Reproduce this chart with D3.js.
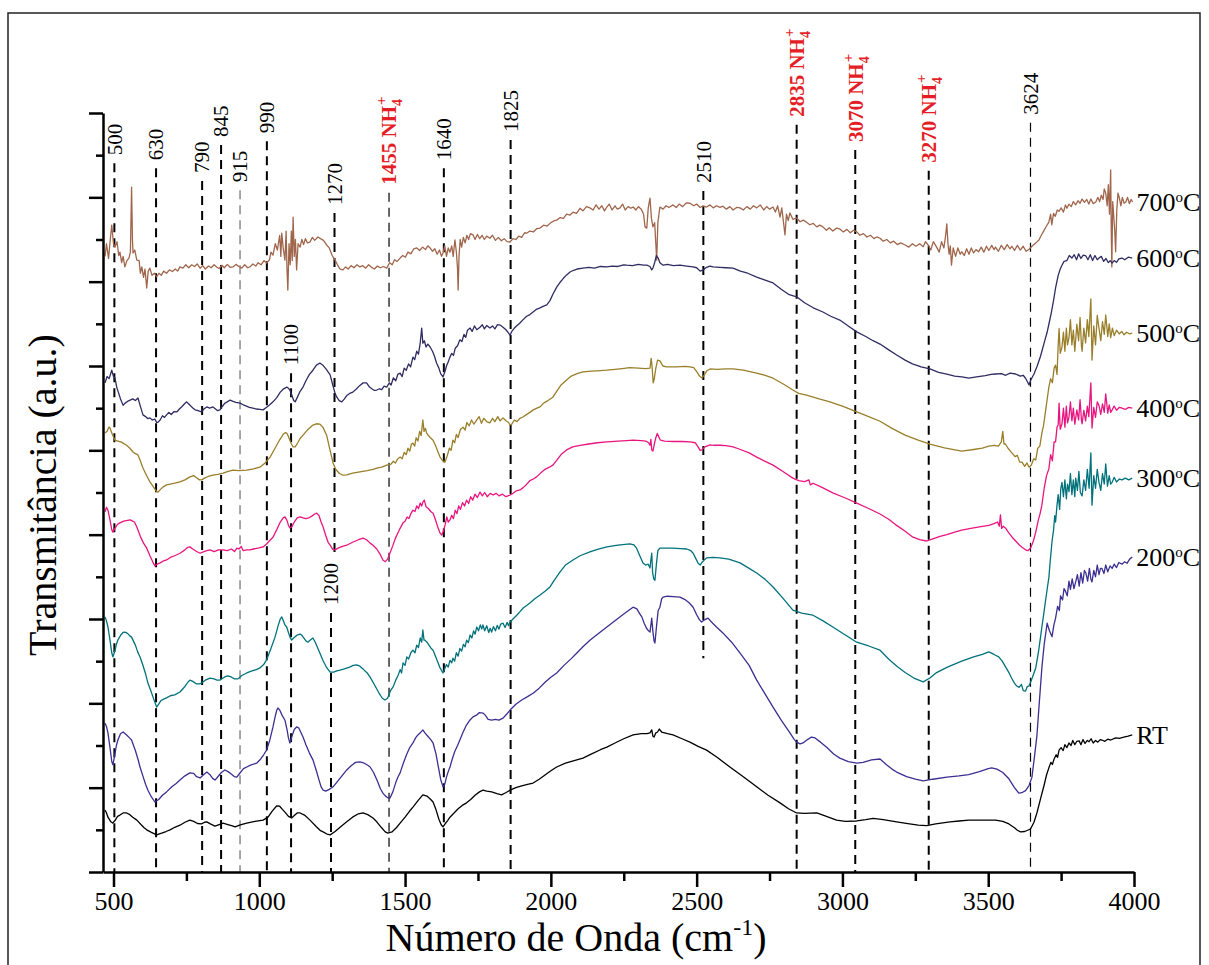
<!DOCTYPE html>
<html lang="pt">
<head>
<meta charset="utf-8">
<script src="https://d3js.org/d3.v7.min.js"></script>
<style>
  body { margin: 0; background: #fff; }
  text { font-family: "Liberation Serif", "Times New Roman", serif; }
</style>
</head>
<body>
<script>
// FTIR spectra, [wavenumber, transmittance a.u.]
const s700 = [[471,14.60],[476,14.9],[483,14.55],[489,15.0],[494,15.34],[500,14.9],[505,14.82],[512,14.95],[518,14.62],[522,14.70],[528,14.45],[533,14.6],[539,14.35],[546,14.5],[553,14.56],[558,14.7],[562,16.24],[565,15.0],[567,14.68],[573,14.75],[580,14.51],[588,14.5],[592,14.2],[597,14.35],[603,14.1],[608,14.3],[614,13.85],[619,14.25],[625,14.32],[632,14.15],[640,14.2],[648,14.11],[656,14.2],[664,14.15],[672,14.25],[682,14.20],[692,14.28],[702,14.24],[712,14.3],[720,14.25],[728,14.35],[738,14.32],[748,14.4],[758,14.33],[768,14.4],[778,14.36],[787,14.42],[797,14.32],[806,14.38],[815,14.3],[826,14.37],[835,14.33],[845,14.4],[854,14.35],[862,14.31],[872,14.39],[880,14.33],[890,14.41],[900,14.34],[910,14.35],[920,14.41],[930,14.36],[940,14.32],[950,14.4],[960,14.33],[968,14.35],[978,14.42],[988,14.37],[996,14.45],[1006,14.4],[1016,14.5],[1025,14.44],[1035,14.52],[1040,14.7],[1047,14.63],[1055,14.9],[1062,14.75],[1070,15.1],[1074,14.6],[1077,15.15],[1082,14.8],[1088,14.51],[1092,15.2],[1095,14.3],[1098,13.80],[1102,14.9],[1106,14.4],[1110,15.2],[1113,14.5],[1116,15.53],[1120,14.6],[1124,15.0],[1128,14.28],[1133,14.9],[1140,14.82],[1146,15.0],[1152,14.88],[1158,15.02],[1165,14.92],[1174,14.94],[1182,15.05],[1190,14.98],[1201,15.06],[1210,15.02],[1220,14.98],[1231,14.87],[1240,14.8],[1250,14.62],[1260,14.51],[1268,14.4],[1277,14.3],[1287,14.28],[1296,14.35],[1305,14.3],[1315,14.38],[1325,14.33],[1335,14.4],[1345,14.35],[1355,14.38],[1365,14.32],[1375,14.4],[1385,14.34],[1395,14.3],[1405,14.37],[1415,14.33],[1426,14.36],[1437,14.32],[1447,14.45],[1456,14.4],[1464,14.52],[1473,14.48],[1483,14.56],[1492,14.62],[1501,14.58],[1510,14.7],[1520,14.66],[1530,14.78],[1540,14.80],[1550,14.74],[1560,14.82],[1570,14.76],[1578,14.85],[1586,14.80],[1594,14.72],[1602,14.78],[1610,14.65],[1618,14.75],[1625,14.6],[1630,14.68],[1636,14.85],[1642,14.6],[1648,14.8],[1654,14.70],[1660,14.85],[1665,14.6],[1671,14.99],[1676,14.7],[1680,14.3],[1682,13.80],[1685,14.6],[1689,15.0],[1694,14.82],[1700,15.05],[1706,14.92],[1712,15.1],[1718,15.0],[1724,15.14],[1733,15.11],[1740,15.0],[1748,15.12],[1756,15.02],[1764,15.1],[1772,15.0],[1780,15.08],[1791,15.03],[1800,15.1],[1810,14.98],[1820,15.05],[1830,14.97],[1840,15.02],[1850,14.95],[1860,14.94],[1870,15.02],[1880,15.0],[1890,15.08],[1900,15.05],[1910,15.16],[1917,15.15],[1928,15.2],[1940,15.18],[1952,15.26],[1963,15.27],[1975,15.34],[1987,15.32],[2000,15.4],[2010,15.44],[2020,15.46],[2032,15.52],[2043,15.5],[2054,15.6],[2066,15.58],[2076,15.65],[2088,15.62],[2100,15.74],[2110,15.68],[2122,15.78],[2134,15.75],[2145,15.7],[2155,15.82],[2165,15.72],[2175,15.8],[2184,15.68],[2192,15.77],[2200,15.84],[2210,15.7],[2220,15.8],[2228,15.72],[2237,15.75],[2246,15.84],[2255,15.7],[2265,15.78],[2274,15.74],[2282,15.77],[2292,15.7],[2300,15.78],[2310,15.72],[2318,15.6],[2323,15.3],[2329,15.27],[2334,15.75],[2340,15.98],[2345,15.5],[2350,15.30],[2356,15.4],[2360,14.9],[2363,14.51],[2367,15.4],[2374,15.77],[2385,15.72],[2395,15.8],[2405,15.76],[2419,15.82],[2430,15.76],[2440,15.84],[2452,15.78],[2465,15.87],[2477,15.86],[2490,15.8],[2500,15.84],[2512,15.76],[2522,15.8],[2534,15.77],[2546,15.82],[2557,15.75],[2568,15.8],[2580,15.76],[2590,15.79],[2602,15.72],[2614,15.78],[2625,15.7],[2637,15.76],[2649,15.75],[2660,15.7],[2672,15.78],[2684,15.72],[2695,15.8],[2706,15.75],[2718,15.82],[2730,15.7],[2740,15.78],[2750,15.72],[2762,15.77],[2770,15.65],[2778,15.8],[2786,15.53],[2792,15.75],[2798,15.4],[2803,15.11],[2808,15.6],[2814,15.45],[2820,15.63],[2830,15.48],[2843,15.51],[2855,15.42],[2866,15.46],[2877,15.41],[2888,15.35],[2900,15.38],[2912,15.3],[2922,15.34],[2933,15.30],[2945,15.22],[2955,15.28],[2967,15.2],[2980,15.27],[2991,15.25],[3003,15.18],[3015,15.24],[3027,15.16],[3038,15.22],[3049,15.18],[3060,15.1],[3072,15.14],[3084,15.06],[3096,15.1],[3108,15.02],[3118,15.06],[3129,15.03],[3140,14.96],[3152,15.0],[3164,14.92],[3176,14.96],[3188,14.88],[3200,14.92],[3215,14.87],[3228,14.82],[3240,14.9],[3252,14.84],[3265,14.9],[3277,14.83],[3285,14.95],[3294,14.87],[3303,14.75],[3312,14.95],[3323,14.82],[3332,14.7],[3340,14.95],[3348,14.8],[3354,15.1],[3358,15.37],[3362,14.9],[3366,14.65],[3370,14.85],[3374,14.39],[3380,14.8],[3388,14.6],[3396,14.8],[3404,14.65],[3409,14.71],[3418,14.62],[3426,14.78],[3434,14.65],[3442,14.8],[3450,14.68],[3458,14.76],[3467,14.71],[3476,14.82],[3485,14.7],[3494,14.84],[3502,14.74],[3512,14.86],[3520,14.76],[3525,14.82],[3535,14.72],[3545,14.86],[3555,14.76],[3565,14.88],[3575,14.78],[3581,14.84],[3590,14.74],[3600,14.86],[3610,14.75],[3620,14.84],[3630,14.72],[3640,14.77],[3650,14.84],[3660,14.9],[3668,14.95],[3674,14.99],[3682,15.1],[3690,15.2],[3700,15.32],[3708,15.41],[3714,15.6],[3718,15.35],[3724,15.62],[3730,15.55],[3737,15.7],[3743,15.67],[3750,15.75],[3758,15.65],[3765,15.82],[3770,15.74],[3777,15.84],[3785,15.78],[3792,15.9],[3800,15.82],[3808,15.92],[3815,15.86],[3822,15.96],[3830,15.88],[3838,15.95],[3845,15.84],[3852,15.96],[3860,15.85],[3869,15.89],[3876,16.0],[3882,15.9],[3888,16.05],[3894,15.95],[3898,16.2],[3903,16.10],[3908,15.8],[3912,16.3],[3916,15.6],[3920,16.65],[3922,15.2],[3924,14.35],[3927,15.9],[3930,15.6],[3934,15.2],[3937,14.71],[3941,15.7],[3945,16.1],[3949,16.01],[3955,15.8],[3960,16.0],[3966,15.86],[3972,15.89],[3978,16.0],[3984,15.85],[3990,15.95],[3995,15.89]];

const s600 = [[471,11.60],[478,11.75],[485,11.7],[494,11.90],[500,11.75],[505,11.72],[511,11.50],[518,11.35],[524,11.22],[533,11.07],[540,11.12],[548,11.16],[557,11.19],[566,11.22],[575,11.18],[584,11.24],[592,11.05],[601,10.84],[610,10.8],[618,10.75],[625,10.77],[633,10.72],[642,10.74],[648,10.66],[653,10.67],[660,10.72],[668,10.82],[675,10.78],[682,10.84],[690,10.9],[698,10.85],[708,10.92],[717,10.91],[726,10.98],[735,11.04],[743,11.1],[751,11.15],[758,11.1],[765,11.05],[773,11.00],[780,10.96],[790,10.94],[802,10.91],[810,10.98],[820,11.03],[830,11.0],[841,11.03],[850,10.98],[857,10.94],[865,10.96],[873,11.04],[882,11.12],[890,11.15],[900,11.19],[910,11.16],[920,11.14],[934,11.12],[945,11.08],[956,11.05],[966,11.02],[978,11.00],[990,10.98],[1002,10.97],[1013,10.96],[1025,11.02],[1036,11.08],[1047,11.15],[1060,11.25],[1072,11.38],[1082,11.45],[1090,11.48],[1094,11.50],[1100,11.47],[1105,11.43],[1112,11.3],[1118,11.18],[1123,11.15],[1130,11.25],[1140,11.4],[1150,11.50],[1160,11.65],[1172,11.8],[1184,11.90],[1196,12.02],[1208,12.07],[1218,12.02],[1230,11.92],[1243,11.79],[1252,11.55],[1260,11.35],[1266,11.26],[1274,11.18],[1283,11.15],[1292,11.22],[1300,11.3],[1310,11.35],[1321,11.38],[1332,11.45],[1345,11.54],[1356,11.6],[1368,11.60],[1378,11.5],[1386,11.46],[1395,11.42],[1403,11.43],[1412,11.46],[1420,11.44],[1428,11.52],[1437,11.50],[1446,11.6],[1452,11.55],[1460,11.72],[1468,11.65],[1475,11.8],[1483,11.83],[1490,11.75],[1497,11.95],[1504,11.9],[1512,12.05],[1519,11.98],[1527,12.21],[1533,12.15],[1540,12.35],[1546,12.28],[1552,12.55],[1557,12.90],[1561,12.54],[1566,12.6],[1572,12.45],[1578,12.52],[1586,12.45],[1594,12.35],[1600,12.25],[1608,12.07],[1616,11.95],[1622,11.82],[1630,11.74],[1636,11.85],[1642,12.0],[1648,12.1],[1654,12.21],[1660,12.3],[1666,12.25],[1672,12.42],[1680,12.48],[1688,12.62],[1695,12.58],[1702,12.75],[1708,12.68],[1714,12.85],[1723,12.90],[1730,12.82],[1738,12.95],[1746,12.86],[1757,12.92],[1765,12.98],[1772,12.88],[1780,12.96],[1791,12.90],[1800,12.95],[1808,12.88],[1817,12.98],[1826,12.97],[1836,12.92],[1846,12.86],[1855,12.78],[1860,12.73],[1866,12.82],[1875,12.9],[1884,12.96],[1894,13.02],[1905,13.1],[1917,13.18],[1928,13.22],[1939,13.28],[1952,13.35],[1963,13.38],[1975,13.42],[1986,13.45],[1997,13.55],[2007,13.7],[2020,13.87],[2031,13.98],[2043,14.08],[2054,14.16],[2066,14.23],[2078,14.27],[2090,14.3],[2110,14.32],[2130,14.34],[2150,14.32],[2170,14.36],[2192,14.35],[2210,14.37],[2230,14.36],[2250,14.4],[2260,14.39],[2280,14.38],[2300,14.41],[2318,14.39],[2329,14.39],[2340,14.36],[2346,14.28],[2350,14.32],[2356,14.45],[2362,14.62],[2368,14.56],[2374,14.45],[2385,14.39],[2400,14.41],[2420,14.38],[2443,14.39],[2465,14.37],[2488,14.35],[2500,14.33],[2512,14.25],[2522,14.28],[2534,14.34],[2546,14.37],[2556,14.35],[2580,14.34],[2600,14.33],[2625,14.32],[2650,14.25],[2675,14.2],[2706,14.11],[2730,14.05],[2762,13.97],[2790,13.82],[2815,13.7],[2843,13.64],[2870,13.5],[2900,13.38],[2933,13.28],[2960,13.18],[2991,13.09],[3020,12.95],[3049,12.81],[3080,12.7],[3105,12.6],[3129,12.52],[3155,12.4],[3186,12.26],[3215,12.14],[3240,12.05],[3270,11.98],[3300,11.93],[3330,11.85],[3358,11.81],[3385,11.76],[3410,11.74],[3433,11.71],[3460,11.74],[3490,11.77],[3510,11.8],[3525,11.81],[3545,11.82],[3560,11.78],[3575,11.83],[3594,11.81],[3610,11.76],[3620,11.78],[3628,11.71],[3635,11.62],[3640,11.55],[3645,11.65],[3650,11.72],[3657,11.81],[3668,12.0],[3678,12.2],[3684,12.35],[3694,12.6],[3702,12.8],[3708,12.99],[3716,13.25],[3724,13.55],[3731,13.85],[3740,14.15],[3747,14.3],[3753,14.39],[3760,14.48],[3770,14.5],[3778,14.62],[3787,14.56],[3795,14.64],[3803,14.52],[3810,14.66],[3818,14.55],[3826,14.63],[3835,14.61],[3842,14.52],[3850,14.64],[3858,14.5],[3866,14.62],[3874,14.52],[3880,14.56],[3888,14.6],[3896,14.48],[3904,14.55],[3912,14.45],[3918,14.5],[3925,14.44],[3932,14.5],[3940,14.46],[3948,14.54],[3959,14.56],[3968,14.52],[3980,14.58],[3994,14.56]];

const s500 = [[471,10.41],[478,10.45],[484,10.55],[488,10.53],[495,10.4],[505,10.24],[515,10.22],[525,10.2],[533,10.17],[545,10.12],[556,10.05],[567,9.96],[575,9.92],[583,9.9],[591,9.77],[600,9.6],[610,9.45],[625,9.25],[638,9.12],[648,9.02],[653,9.01],[662,9.08],[672,9.14],[682,9.18],[695,9.2],[710,9.22],[728,9.25],[745,9.3],[762,9.37],[775,9.4],[785,9.35],[795,9.3],[802,9.30],[812,9.34],[825,9.38],[841,9.41],[858,9.43],[876,9.46],[893,9.5],[910,9.53],[930,9.52],[957,9.53],[980,9.56],[1002,9.60],[1020,9.7],[1037,9.84],[1055,10.06],[1070,10.25],[1082,10.38],[1090,10.42],[1094,10.41],[1100,10.33],[1108,10.18],[1116,10.08],[1123,10.08],[1132,10.18],[1140,10.28],[1150,10.36],[1165,10.48],[1184,10.60],[1196,10.63],[1208,10.62],[1218,10.55],[1231,10.36],[1240,10.08],[1248,9.85],[1253,9.70],[1262,9.55],[1275,9.45],[1287,9.41],[1300,9.42],[1320,9.46],[1345,9.49],[1370,9.52],[1390,9.55],[1403,9.58],[1420,9.6],[1437,9.65],[1450,9.66],[1460,9.74],[1467,9.7],[1475,9.8],[1483,9.84],[1490,9.8],[1497,9.95],[1504,9.9],[1510,10.05],[1516,9.98],[1522,10.15],[1527,10.17],[1533,10.1],[1538,10.3],[1544,10.22],[1550,10.45],[1555,10.35],[1561,10.72],[1565,10.45],[1570,10.52],[1574,10.41],[1580,10.35],[1587,10.3],[1596,10.24],[1604,10.12],[1612,9.98],[1620,9.84],[1628,9.76],[1637,9.72],[1645,9.88],[1652,10.05],[1658,10.0],[1664,10.24],[1670,10.18],[1676,10.38],[1682,10.3],[1690,10.5],[1699,10.55],[1706,10.48],[1712,10.66],[1720,10.58],[1728,10.72],[1736,10.62],[1746,10.72],[1754,10.8],[1762,10.64],[1770,10.76],[1780,10.68],[1791,10.65],[1800,10.76],[1808,10.68],[1818,10.8],[1826,10.7],[1836,10.77],[1846,10.7],[1855,10.66],[1860,10.6],[1866,10.62],[1875,10.72],[1884,10.68],[1894,10.76],[1904,10.79],[1915,10.84],[1928,10.9],[1940,10.96],[1952,11.0],[1963,11.03],[1975,11.12],[1990,11.18],[2007,11.26],[2020,11.4],[2035,11.55],[2054,11.67],[2070,11.76],[2090,11.82],[2110,11.86],[2140,11.88],[2170,11.89],[2192,11.90],[2220,11.92],[2245,11.94],[2270,11.96],[2300,11.95],[2325,11.94],[2340,11.95],[2344,12.18],[2347,12.0],[2351,11.6],[2354,11.67],[2360,11.95],[2366,12.14],[2374,12.12],[2384,12.0],[2397,11.98],[2430,11.98],[2460,11.99],[2477,11.98],[2490,11.96],[2502,11.85],[2510,11.76],[2517,11.72],[2524,11.76],[2534,11.88],[2546,11.93],[2570,11.92],[2600,11.93],[2625,11.93],[2660,11.9],[2706,11.83],[2735,11.78],[2762,11.71],[2800,11.56],[2830,11.43],[2850,11.35],[2877,11.31],[2920,11.22],[2957,11.15],[3000,11.05],[3049,10.91],[3090,10.8],[3129,10.69],[3170,10.52],[3215,10.36],[3260,10.24],[3300,10.15],[3350,10.06],[3409,9.98],[3450,10.02],[3480,10.05],[3502,10.10],[3520,10.12],[3535,10.1],[3545,10.2],[3550,10.45],[3554,10.15],[3559,10.15],[3568,10.05],[3581,9.94],[3592,9.85],[3600,9.88],[3608,9.72],[3616,9.72],[3625,9.62],[3633,9.7],[3640,9.60],[3648,9.65],[3656,9.8],[3663,9.77],[3670,10.05],[3677,10.1],[3684,10.41],[3690,10.6],[3696,10.9],[3702,11.2],[3708,11.50],[3714,11.7],[3720,11.6],[3726,11.95],[3731,12.02],[3736,11.8],[3740,12.5],[3743,12.89],[3747,12.3],[3753,12.45],[3758,12.8],[3763,12.35],[3768,12.9],[3772,12.5],[3777,12.67],[3782,13.1],[3787,12.5],[3792,12.85],[3797,12.35],[3804,12.99],[3810,12.6],[3815,13.15],[3820,12.45],[3822,12.35],[3828,12.9],[3834,12.55],[3840,13.1],[3845,12.7],[3852,13.59],[3856,12.14],[3862,12.95],[3868,12.5],[3874,13.2],[3880,12.89],[3886,12.6],[3892,13.05],[3898,12.75],[3903,13.21],[3910,12.7],[3915,13.0],[3920,12.67],[3926,12.9],[3932,12.72],[3940,12.85],[3949,12.76],[3958,12.82],[3966,12.74],[3975,12.8],[3985,12.76],[3994,12.78]];

const s400 = [[471,8.54],[476,8.65],[481,8.58],[488,8.35],[494,8.12],[498,8.06],[505,8.15],[513,8.24],[522,8.28],[535,8.32],[548,8.34],[557,8.35],[566,8.32],[572,8.3],[580,8.18],[592,7.96],[603,7.8],[614,7.68],[625,7.5],[635,7.35],[642,7.26],[650,7.3],[660,7.33],[672,7.38],[682,7.40],[695,7.46],[710,7.5],[728,7.56],[745,7.64],[755,7.7],[762,7.71],[772,7.66],[785,7.6],[797,7.56],[810,7.6],[820,7.62],[831,7.64],[845,7.6],[860,7.64],[876,7.64],[890,7.62],[905,7.66],[915,7.6],[923,7.68],[930,7.66],[938,7.72],[945,7.62],[957,7.64],[968,7.64],[980,7.66],[995,7.68],[1013,7.71],[1025,7.78],[1036,7.86],[1047,7.94],[1060,8.12],[1072,8.3],[1082,8.4],[1088,8.42],[1095,8.34],[1100,8.22],[1105,8.16],[1111,8.18],[1120,8.3],[1130,8.4],[1140,8.42],[1150,8.4],[1160,8.38],[1167,8.39],[1180,8.44],[1190,8.49],[1197,8.51],[1205,8.45],[1212,8.3],[1219,8.18],[1228,7.98],[1236,7.82],[1243,7.75],[1252,7.65],[1260,7.64],[1270,7.68],[1285,7.72],[1300,7.75],[1320,7.82],[1340,7.88],[1356,7.92],[1368,7.88],[1380,7.8],[1390,7.75],[1403,7.66],[1414,7.54],[1424,7.40],[1432,7.36],[1440,7.42],[1448,7.56],[1458,7.74],[1466,7.9],[1474,8.02],[1483,8.15],[1493,8.28],[1500,8.32],[1507,8.42],[1513,8.38],[1520,8.5],[1527,8.58],[1534,8.55],[1540,8.68],[1546,8.62],[1552,8.75],[1557,8.68],[1561,8.77],[1566,8.82],[1572,8.66],[1580,8.62],[1588,8.55],[1596,8.51],[1604,8.36],[1612,8.18],[1620,8.04],[1626,7.99],[1632,8.1],[1638,8.25],[1643,8.42],[1648,8.3],[1654,8.35],[1660,8.46],[1666,8.38],[1672,8.58],[1678,8.5],[1684,8.68],[1690,8.6],[1697,8.76],[1704,8.68],[1711,8.82],[1718,8.74],[1725,8.9],[1732,8.82],[1740,8.96],[1748,8.88],[1757,9.01],[1765,8.92],[1773,9.0],[1782,8.9],[1792,8.98],[1802,8.94],[1812,8.98],[1822,8.92],[1834,8.96],[1846,8.9],[1860,8.94],[1870,8.98],[1882,9.04],[1894,9.06],[1904,9.11],[1915,9.18],[1928,9.28],[1940,9.32],[1951,9.37],[1965,9.46],[1980,9.55],[1995,9.6],[2007,9.65],[2020,9.76],[2035,9.9],[2054,10.01],[2075,10.08],[2100,10.12],[2130,10.15],[2160,10.18],[2192,10.20],[2230,10.22],[2260,10.23],[2282,10.24],[2310,10.23],[2326,10.22],[2335,10.18],[2340,10.12],[2343,10.26],[2346,10.01],[2350,9.98],[2355,10.15],[2360,10.3],[2365,10.4],[2370,10.32],[2376,10.24],[2390,10.22],[2420,10.21],[2450,10.21],[2477,10.20],[2495,10.18],[2505,10.08],[2512,10.0],[2518,10.01],[2528,10.08],[2546,10.13],[2560,10.12],[2580,10.12],[2600,10.11],[2625,10.08],[2650,10.02],[2680,9.94],[2706,9.84],[2735,9.74],[2762,9.65],[2800,9.48],[2830,9.34],[2850,9.28],[2870,9.26],[2885,9.3],[2890,9.18],[2899,9.22],[2930,9.12],[2967,8.99],[3010,8.87],[3049,8.75],[3090,8.62],[3129,8.49],[3160,8.36],[3186,8.22],[3215,8.08],[3242,7.94],[3265,7.88],[3289,7.85],[3310,7.9],[3335,7.96],[3358,8.00],[3385,8.06],[3409,8.11],[3440,8.15],[3475,8.19],[3502,8.22],[3520,8.26],[3532,8.3],[3538,8.2],[3542,8.47],[3546,8.15],[3552,8.2],[3559,8.16],[3570,8.05],[3582,7.94],[3594,7.85],[3606,7.76],[3616,7.7],[3628,7.64],[3636,7.62],[3645,7.68],[3655,7.85],[3663,8.06],[3672,8.35],[3678,8.5],[3684,8.70],[3692,9.1],[3700,9.4],[3708,9.56],[3714,9.9],[3720,9.75],[3726,10.2],[3731,10.20],[3736,10.55],[3740,10.6],[3743,11.12],[3747,10.5],[3753,10.63],[3758,11.0],[3763,10.55],[3768,11.05],[3772,10.65],[3777,10.79],[3782,11.15],[3787,10.7],[3792,11.0],[3797,10.62],[3804,10.96],[3810,10.72],[3815,11.2],[3820,10.7],[3822,10.63],[3828,10.95],[3834,10.7],[3840,11.05],[3845,10.8],[3852,11.60],[3856,10.53],[3862,11.02],[3868,10.78],[3874,11.15],[3880,11.06],[3886,10.85],[3892,11.1],[3898,10.9],[3903,11.34],[3910,10.88],[3915,11.08],[3920,10.9],[3925,10.96],[3932,11.05],[3940,10.95],[3950,11.02],[3959,11.00],[3970,10.97],[3982,11.02],[3994,11.00]];

const s300 = [[471,6.05],[476,5.95],[481,5.81],[488,5.5],[494,5.2],[498,5.10],[505,5.25],[510,5.4],[515,5.50],[525,5.62],[533,5.68],[539,5.69],[548,5.66],[556,5.6],[562,5.57],[575,5.38],[583,5.22],[591,5.10],[600,4.92],[610,4.7],[618,4.48],[628,4.3],[638,4.1],[648,3.91],[655,3.98],[662,4.06],[672,4.1],[682,4.13],[695,4.18],[710,4.2],[728,4.27],[745,4.4],[755,4.5],[762,4.55],[772,4.52],[785,4.46],[795,4.46],[802,4.48],[815,4.55],[831,4.60],[845,4.58],[855,4.55],[865,4.55],[876,4.6],[885,4.64],[893,4.65],[905,4.62],[915,4.58],[927,4.58],[940,4.66],[957,4.72],[975,4.77],[990,4.8],[1002,4.84],[1015,4.92],[1025,5.03],[1040,5.3],[1054,5.57],[1065,5.85],[1072,6.0],[1077,6.05],[1083,5.95],[1088,5.86],[1094,5.81],[1100,5.68],[1106,5.56],[1111,5.50],[1120,5.56],[1130,5.62],[1140,5.64],[1145,5.62],[1152,5.56],[1160,5.48],[1167,5.45],[1175,5.5],[1184,5.55],[1192,5.45],[1200,5.32],[1208,5.19],[1218,5.02],[1230,4.86],[1243,4.74],[1255,4.74],[1266,4.77],[1277,4.79],[1292,4.82],[1310,4.86],[1322,4.9],[1334,4.91],[1345,4.88],[1358,4.8],[1370,4.72],[1380,4.62],[1395,4.44],[1410,4.25],[1422,4.12],[1431,4.08],[1440,4.12],[1450,4.3],[1459,4.39],[1468,4.55],[1476,4.66],[1483,4.8],[1488,4.72],[1493,4.96],[1500,4.9],[1506,5.1],[1512,5.05],[1520,5.2],[1527,5.26],[1534,5.2],[1540,5.38],[1546,5.32],[1552,5.55],[1557,5.45],[1561,5.74],[1565,5.5],[1568,5.50],[1575,5.45],[1582,5.38],[1590,5.3],[1596,5.26],[1604,5.12],[1612,4.98],[1620,4.84],[1630,4.72],[1636,4.82],[1642,4.92],[1648,4.86],[1654,5.02],[1660,4.96],[1664,5.07],[1670,5.0],[1676,5.2],[1682,5.12],[1688,5.3],[1694,5.24],[1700,5.4],[1706,5.34],[1711,5.50],[1717,5.44],[1723,5.62],[1729,5.55],[1735,5.72],[1740,5.64],[1746,5.81],[1752,5.72],[1758,5.86],[1763,5.76],[1767,5.86],[1773,5.72],[1780,5.84],[1787,5.68],[1792,5.78],[1797,5.69],[1803,5.82],[1810,5.72],[1816,5.85],[1822,5.76],[1828,5.88],[1836,5.90],[1843,5.8],[1850,5.92],[1855,5.84],[1860,5.93],[1870,6.0],[1883,6.09],[1895,6.18],[1905,6.26],[1917,6.32],[1928,6.38],[1945,6.48],[1963,6.57],[1980,6.66],[1997,6.76],[2012,6.92],[2031,7.11],[2050,7.28],[2076,7.40],[2100,7.5],[2134,7.59],[2160,7.65],[2192,7.71],[2230,7.75],[2271,7.78],[2285,7.76],[2294,7.68],[2305,7.5],[2316,7.33],[2325,7.28],[2334,7.3],[2340,7.21],[2343,7.4],[2346,7.56],[2349,7.1],[2353,6.95],[2357,6.92],[2362,7.3],[2367,7.62],[2374,7.68],[2400,7.68],[2419,7.68],[2445,7.67],[2466,7.66],[2480,7.62],[2488,7.56],[2496,7.45],[2505,7.32],[2512,7.28],[2520,7.36],[2534,7.45],[2556,7.46],[2580,7.45],[2610,7.42],[2649,7.33],[2680,7.2],[2706,7.09],[2735,6.94],[2762,6.76],[2795,6.5],[2830,6.21],[2860,6.14],[2899,6.09],[2935,5.95],[2967,5.81],[3010,5.62],[3049,5.45],[3090,5.36],[3129,5.26],[3160,5.04],[3190,4.86],[3215,4.73],[3245,4.6],[3277,4.51],[3300,4.6],[3323,4.73],[3360,4.86],[3409,5.00],[3450,5.1],[3480,5.16],[3502,5.22],[3515,5.18],[3525,5.14],[3536,5.10],[3548,5.0],[3560,4.86],[3571,4.73],[3580,4.6],[3590,4.48],[3598,4.41],[3606,4.38],[3614,4.45],[3620,4.3],[3628,4.29],[3634,4.4],[3640,4.41],[3648,4.55],[3656,4.7],[3663,4.84],[3672,5.2],[3678,5.5],[3684,5.81],[3690,6.1],[3696,6.4],[3702,6.7],[3708,6.98],[3713,7.4],[3719,7.85],[3724,8.1],[3728,8.45],[3731,8.3],[3736,8.70],[3740,8.95],[3745,8.6],[3749,9.1],[3753,9.24],[3758,8.9],[3763,9.3],[3768,8.85],[3772,9.2],[3777,9.02],[3782,9.45],[3787,8.95],[3792,9.3],[3797,8.9],[3800,9.34],[3806,9.05],[3811,9.5],[3816,9.0],[3822,8.92],[3828,9.3],[3834,9.05],[3840,9.55],[3846,9.1],[3852,9.94],[3856,8.70],[3862,9.4],[3868,9.1],[3874,9.55],[3880,9.24],[3886,9.05],[3892,9.45],[3898,9.2],[3903,9.68],[3909,9.15],[3915,9.4],[3920,9.2],[3925,9.24],[3932,9.36],[3940,9.25],[3950,9.32],[3959,9.30],[3970,9.34],[3982,9.3],[3994,9.34]];

const s200 = [[471,3.53],[476,3.45],[481,3.30],[488,2.95],[494,2.62],[498,2.54],[505,2.8],[510,3.0],[515,3.13],[524,3.28],[533,3.32],[545,3.25],[555,3.18],[562,3.13],[575,2.88],[585,2.65],[591,2.49],[602,2.25],[610,2.08],[618,1.94],[630,1.78],[642,1.66],[655,1.72],[668,1.82],[682,1.90],[700,2.02],[715,2.1],[728,2.18],[745,2.28],[762,2.35],[775,2.34],[785,2.26],[797,2.23],[808,2.3],[820,2.37],[832,2.3],[840,2.22],[848,2.18],[858,2.26],[870,2.36],[882,2.42],[893,2.38],[905,2.32],[915,2.26],[923,2.25],[935,2.36],[946,2.45],[957,2.49],[972,2.54],[991,2.58],[1005,2.68],[1015,2.78],[1025,2.89],[1035,3.1],[1047,3.44],[1055,3.7],[1060,3.84],[1064,3.89],[1070,3.84],[1078,3.72],[1088,3.60],[1095,3.38],[1100,3.18],[1105,3.06],[1112,3.22],[1120,3.38],[1128,3.44],[1135,3.42],[1142,3.32],[1150,3.20],[1160,3.02],[1172,2.82],[1184,2.66],[1195,2.42],[1205,2.18],[1212,2.02],[1219,1.94],[1228,1.92],[1240,1.96],[1253,2.02],[1265,2.12],[1280,2.25],[1300,2.42],[1315,2.52],[1330,2.6],[1345,2.61],[1360,2.58],[1372,2.53],[1380,2.49],[1392,2.36],[1405,2.16],[1415,1.98],[1424,1.87],[1433,1.8],[1441,1.76],[1448,1.75],[1458,1.9],[1468,2.12],[1476,2.26],[1483,2.35],[1494,2.58],[1505,2.78],[1516,2.95],[1527,3.06],[1536,3.18],[1544,3.25],[1552,3.3],[1561,3.37],[1568,3.3],[1578,3.22],[1588,3.14],[1596,3.06],[1606,2.8],[1614,2.5],[1622,2.2],[1630,2.02],[1636,2.08],[1642,2.25],[1648,2.38],[1654,2.49],[1662,2.68],[1670,2.85],[1680,3.0],[1688,3.13],[1698,3.3],[1710,3.48],[1722,3.6],[1733,3.68],[1745,3.72],[1755,3.78],[1767,3.77],[1775,3.72],[1785,3.62],[1797,3.60],[1810,3.62],[1822,3.6],[1836,3.65],[1848,3.74],[1860,3.84],[1880,3.98],[1900,4.08],[1920,4.16],[1939,4.24],[1960,4.36],[1980,4.5],[2000,4.62],[2020,4.72],[2045,4.9],[2070,5.06],[2090,5.2],[2110,5.34],[2135,5.5],[2160,5.64],[2192,5.81],[2220,5.96],[2250,6.12],[2270,6.22],[2282,6.28],[2295,6.24],[2305,6.12],[2312,6.05],[2320,5.9],[2328,5.78],[2335,5.72],[2340,5.69],[2343,5.85],[2346,6.02],[2350,5.7],[2354,5.48],[2357,5.43],[2362,5.8],[2368,6.2],[2374,6.28],[2380,6.48],[2385,6.52],[2400,6.54],[2420,6.53],[2443,6.52],[2460,6.46],[2475,6.38],[2488,6.28],[2500,6.1],[2510,5.98],[2517,5.93],[2527,5.98],[2539,6.02],[2555,5.9],[2570,5.8],[2590,5.67],[2620,5.45],[2649,5.19],[2680,4.9],[2706,4.55],[2735,4.22],[2762,3.91],[2790,3.6],[2820,3.30],[2835,3.14],[2843,3.08],[2855,3.04],[2865,3.06],[2880,3.14],[2894,3.2],[2906,3.18],[2925,3.08],[2946,2.96],[2970,2.8],[2991,2.70],[3020,2.62],[3049,2.58],[3071,2.6],[3100,2.66],[3129,2.68],[3150,2.55],[3170,2.44],[3186,2.37],[3220,2.26],[3250,2.2],[3277,2.16],[3310,2.2],[3358,2.25],[3400,2.28],[3433,2.31],[3470,2.38],[3500,2.45],[3512,2.47],[3530,2.44],[3550,2.36],[3571,2.21],[3590,2.0],[3605,1.87],[3615,1.88],[3628,1.93],[3640,2.05],[3650,2.25],[3658,2.7],[3667,3.23],[3675,4.0],[3684,4.84],[3692,5.4],[3702,5.90],[3710,5.72],[3719,5.58],[3725,5.85],[3731,6.02],[3738,6.3],[3744,6.2],[3748,6.55],[3755,6.45],[3760,6.72],[3765,6.66],[3771,6.55],[3777,6.9],[3782,6.7],[3788,6.95],[3794,6.72],[3800,6.88],[3806,7.05],[3812,6.78],[3818,7.1],[3824,6.85],[3830,7.15],[3835,7.09],[3841,6.9],[3847,7.2],[3852,6.95],[3856,6.88],[3862,7.15],[3868,7.0],[3874,7.28],[3880,7.05],[3885,7.2],[3890,7.20],[3897,7.08],[3903,7.28],[3910,7.12],[3918,7.26],[3925,7.20],[3932,7.3],[3940,7.22],[3948,7.34],[3959,7.30],[3968,7.36],[3976,7.32],[3985,7.42],[3994,7.47]];

const sRT = [[471,1.47],[476,1.4],[481,1.30],[490,1.2],[497,1.16],[505,1.22],[514,1.32],[522,1.35],[533,1.4],[545,1.40],[556,1.36],[566,1.3],[580,1.23],[595,1.12],[605,1.05],[614,1.00],[630,0.94],[648,0.88],[665,0.92],[680,0.96],[694,1.00],[710,1.06],[728,1.11],[745,1.18],[762,1.23],[775,1.2],[788,1.15],[802,1.14],[812,1.18],[820,1.19],[832,1.14],[848,1.09],[860,1.12],[876,1.16],[895,1.12],[905,1.1],[917,1.07],[935,1.12],[957,1.16],[985,1.2],[1013,1.23],[1030,1.3],[1045,1.45],[1060,1.57],[1070,1.56],[1080,1.48],[1088,1.42],[1100,1.32],[1111,1.28],[1122,1.35],[1130,1.4],[1140,1.40],[1155,1.35],[1174,1.23],[1195,1.08],[1210,0.98],[1219,0.95],[1232,0.9],[1243,0.88],[1260,0.96],[1280,1.08],[1300,1.19],[1320,1.3],[1340,1.38],[1356,1.40],[1372,1.36],[1390,1.28],[1403,1.19],[1418,1.06],[1432,0.95],[1441,0.92],[1455,0.95],[1470,1.05],[1483,1.16],[1500,1.3],[1515,1.44],[1527,1.54],[1545,1.7],[1561,1.83],[1575,1.8],[1588,1.72],[1596,1.66],[1606,1.48],[1616,1.25],[1624,1.12],[1630,1.07],[1638,1.15],[1646,1.22],[1654,1.30],[1668,1.4],[1682,1.5],[1696,1.58],[1711,1.64],[1725,1.72],[1740,1.82],[1755,1.9],[1767,1.94],[1780,1.92],[1797,1.90],[1815,1.86],[1831,1.83],[1845,1.88],[1860,1.94],[1880,2.0],[1900,2.04],[1920,2.08],[1939,2.11],[1960,2.2],[1980,2.3],[2000,2.4],[2020,2.49],[2050,2.58],[2080,2.64],[2110,2.70],[2140,2.8],[2170,2.9],[2192,2.96],[2220,3.06],[2250,3.16],[2282,3.25],[2310,3.28],[2330,3.28],[2340,3.3],[2346,3.37],[2350,3.22],[2354,3.20],[2360,3.3],[2366,3.32],[2372,3.39],[2380,3.32],[2400,3.28],[2419,3.25],[2450,3.16],[2477,3.08],[2505,2.98],[2534,2.89],[2570,2.72],[2614,2.49],[2660,2.26],[2706,2.02],[2745,1.82],[2786,1.64],[2815,1.5],[2843,1.40],[2870,1.39],[2912,1.40],[2945,1.32],[2980,1.23],[3010,1.2],[3049,1.21],[3080,1.24],[3105,1.27],[3140,1.24],[3186,1.19],[3230,1.14],[3260,1.11],[3289,1.10],[3320,1.14],[3369,1.19],[3400,1.21],[3433,1.23],[3480,1.23],[3525,1.23],[3550,1.2],[3571,1.14],[3590,1.05],[3600,0.99],[3611,0.95],[3625,0.96],[3645,1.02],[3657,1.18],[3667,1.40],[3680,1.75],[3691,2.04],[3700,2.3],[3708,2.47],[3715,2.6],[3720,2.55],[3726,2.68],[3733,2.78],[3738,2.72],[3743,2.89],[3750,2.95],[3757,2.88],[3763,3.02],[3770,2.95],[3777,3.06],[3784,3.0],[3790,3.12],[3797,3.02],[3804,3.1],[3812,3.11],[3818,3.02],[3825,3.14],[3832,3.05],[3840,3.12],[3846,3.09],[3853,3.16],[3860,3.06],[3868,3.12],[3876,3.08],[3884,3.14],[3890,3.13],[3900,3.1],[3910,3.15],[3920,3.13],[3937,3.18],[3950,3.17],[3965,3.2],[3980,3.22],[3994,3.25]];

const seriesNames = ["700", "600", "500", "400", "300", "200", "RT"];
const seriesColors = ["#a0664c", "#2f2c62", "#9a7f2a", "#e8157f", "#00727b", "#3b2f92", "#000000"];
const seriesData = [s700, s600, s500, s400, s300, s200, sRT];

// marked bands: where the dashed line sits, and its label
const peakPos = [503, 646, 804, 869, 934, 1026, 1109, 1246, 1258, 1445, 1633, 1862, 2523, 2843, 3044, 3296, 3645];
const peakText = ["500", "630", "790", "845", "915", "990", "1100", "1200", "1270", "1455", "1640", "1825", "2510", "2835", "3070", "3270", "3624"];
const nh4Bands = ["1455", "2835", "3070", "3270"];

const xMajor = [500, 1000, 1500, 2000, 2500, 3000, 3500, 4000];
const xMinor = [750, 1250, 1750, 2250, 2750, 3250, 3750];

// ---- layout ----
const W = 1209, H = 965;
const svg = d3.select("body").append("svg").attr("width", W).attr("height", H);

// outer frame (runs off the bottom of the picture)
svg.append("rect").attr("x", 8).attr("y", 13).attr("width", 1192).attr("height", 970)
  .attr("fill", "none").attr("stroke", "#222").attr("stroke-width", 1.5);

const x = d3.scaleLinear().domain([464, 4000]).range([103, 1134]);
const y = d3.scaleLinear().domain([0, 18]).range([872, 113]);

// label start (bottom) and line range for each band, in y units
const labelAt = [17.0, 16.88, 16.58, 17.43, 16.36, 17.52, 12.02, 6.33, 15.82, 16.3, 16.88, 17.55, 16.34, 17.91, 17.31, 16.82, 17.96];
const lineEnd = [0, 0, 0, 0, 0, 0, 0, 0, 7.47, 0, 0, 0, 5.07, 0, 0, 0, 0];

const peaks = svg.append("g");
peakPos.forEach(function(w, i) {
  const t = peakText[i];
  const thin = (t === "1455" || t === "3624");
  const grey = (t === "915");
  peaks.append("line")
    .attr("x1", x(w)).attr("x2", x(w))
    .attr("y1", y(labelAt[i]) + 8).attr("y2", y(lineEnd[i]))
    .attr("stroke", grey ? "#8a8a8a" : "#000")
    .attr("stroke-width", thin ? 1.2 : (grey ? 1.5 : 2))
    .attr("stroke-dasharray", "9,6");

  const txt = peaks.append("text")
    .attr("transform", "translate(" + x(w) + "," + y(labelAt[i]) + ") rotate(-90)")
    .attr("dy", "0.35em")
    .style("font-size", "21px");
  if (nh4Bands.includes(t)) {
    txt.attr("fill", "#e41e26").style("font-weight", "bold");
    txt.append("tspan").text(t + " NH");
    txt.append("tspan").text("4").style("font-size", "14px").attr("dy", 6);
    txt.append("tspan").text("+").style("font-size", "15px").attr("dx", -6).attr("dy", -16);
  } else {
    txt.text(t);
  }
});

// spectra
const line = d3.line().x(d => x(d[0])).y(d => y(d[1]));
seriesData.forEach(function(data, i) {
  svg.append("path").datum(data)
    .attr("fill", "none")
    .attr("stroke", seriesColors[i])
    .attr("stroke-width", 1.3)
    .attr("stroke-linejoin", "round")
    .attr("d", line);

  const last = data[data.length - 1];
  const lab = svg.append("text")
    .attr("x", x(last[0]) + 4).attr("y", y(last[1]))
    .attr("dy", "0.35em")
    .style("font-size", "26px");
  if (seriesNames[i] === "RT") {
    lab.text("RT");
  } else {
    lab.append("tspan").text(seriesNames[i]);
    lab.append("tspan").text("o").style("font-size", "15px").attr("dy", -9);
    lab.append("tspan").text("C").attr("dy", 9);
  }
});

// axes
function styleAxis(g) {
  g.selectAll("path, line").attr("stroke", "#000").attr("stroke-width", 2.5);
  g.selectAll("text").style("font-family", "Liberation Serif").style("font-size", "26px").attr("fill", "#000");
}

svg.append("g").attr("transform", "translate(0,872)")
  .call(d3.axisBottom(x).tickValues(xMajor).tickSize(15).tickSizeOuter(0).tickPadding(5).tickFormat(d3.format("d")))
  .call(styleAxis);
svg.append("g").attr("transform", "translate(0,872)")
  .call(d3.axisBottom(x).tickValues(xMinor).tickSize(9).tickSizeOuter(0).tickFormat(""))
  .call(styleAxis)
  .call(g => g.select(".domain").remove());

svg.append("g").attr("transform", "translate(103,0)")
  .call(d3.axisLeft(y).tickValues(d3.range(0, 19, 2)).tickSize(14).tickSizeOuter(0).tickFormat(""))
  .call(styleAxis);
svg.append("g").attr("transform", "translate(103,0)")
  .call(d3.axisLeft(y).tickValues(d3.range(1, 18, 2)).tickSize(7).tickSizeOuter(0).tickFormat(""))
  .call(styleAxis)
  .call(g => g.select(".domain").remove());

// axis titles
svg.append("text")
  .attr("transform", "translate(56,495) rotate(-90)")
  .attr("text-anchor", "middle")
  .style("font-size", "40px")
  .text("Transmitância (a.u.)");

const xt = svg.append("text")
  .attr("x", 576).attr("y", 951)
  .attr("text-anchor", "middle")
  .style("font-size", "40px");
xt.append("tspan").text("Número de Onda (cm");
xt.append("tspan").text("-1").style("font-size", "24px").attr("dy", -16);
xt.append("tspan").text(")").attr("dy", 16);
</script>
</body>
</html>
